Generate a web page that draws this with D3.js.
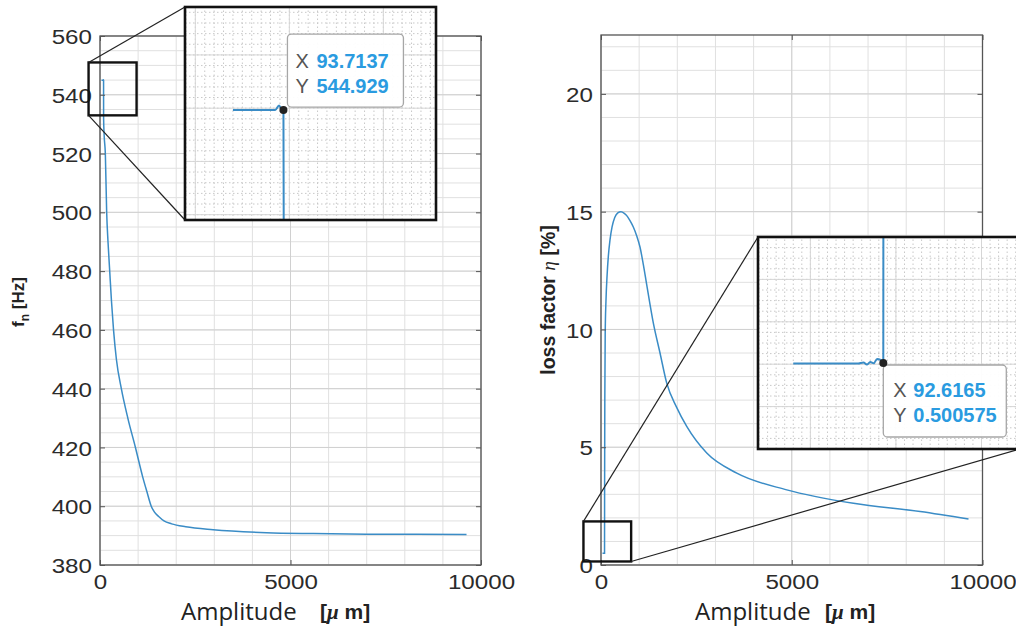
<!DOCTYPE html>
<html>
<head>
<meta charset="utf-8">
<script src="https://cdn.jsdelivr.net/npm/d3@7"></script>
<style>
  body { margin: 0; background: #fff; }
  svg { display: block; font-family: "Liberation Sans", Arial, sans-serif; }
</style>
</head>
<body>
<svg id="chart" width="1016" height="630"></svg>
<script>
// natural frequency vs amplitude
var fnAmp = [40, 85, 89, 91, 93.7137, 94.6, 110, 140, 175, 210, 255, 300, 355, 430, 560, 730, 930, 1120, 1230, 1345, 1430, 1540, 1680, 1880, 2250, 2970, 4370, 5600, 7000, 8300, 9620];
var fnVal = [544.93, 544.93, 545.1, 545.0, 544.929, 532, 526, 520, 500, 490, 480, 470, 460, 450, 440, 430, 420, 410, 405, 400, 398, 396.5, 395, 394, 393, 392, 391, 390.7, 390.5, 390.45, 390.4];

// loss factor vs amplitude
var etaAmp = [40, 78, 81, 83, 85, 87, 89, 91, 92.6165, 93.2, 95, 100, 110, 130, 160, 192, 236, 290, 360, 440, 524, 610, 690, 760, 847, 935, 1022, 1110, 1198, 1372, 1547, 1723, 1980, 2247, 2772, 3559, 4870, 6617, 8366, 9633];
var etaVal = [0.5003, 0.5003, 0.5008, 0.4998, 0.5010, 0.5004, 0.5025, 0.5020, 0.500575, 1.5, 3.5, 7.0, 9.8, 11.2, 12.3, 13.1, 13.8, 14.35, 14.75, 14.95, 15.0, 14.93, 14.8, 14.62, 14.35, 13.98, 13.5, 12.75, 11.9, 10.27, 9.0, 7.72, 6.7, 5.88, 4.75, 3.90, 3.19, 2.62, 2.27, 1.95];

var ampTicks = [0, 5000, 10000];
var fnTicks = [380, 400, 420, 440, 460, 480, 500, 520, 540, 560];
var etaTicks = [0, 5, 10, 15, 20];

var tipLeft = {x: 93.7137, y: 544.929};
var tipRight = {x: 92.6165, y: 0.500575};

// zoom regions (data units)
var zoomLeft = {x: [-300, 960], y: [533, 551]};
var zoomRight = {x: [-460, 790], y: [0.15, 1.85]};

var blue = "#3a8cc6";
var svg = d3.select("#chart");
var lineMain = function (x, y) {
    return d3.line().curve(d3.curveMonotoneX)
        .x(function (d) { return x(d[0]); })
        .y(function (d) { return y(d[1]); });
};
var leftData = fnAmp.map(function (a, i) { return [a, fnVal[i]]; });
var rightData = etaAmp.map(function (a, i) { return [a, etaVal[i]]; });

function grid(g, x, y, xs, ys, color, dash) {
    g.selectAll(null).data(xs).enter().append("line")
        .attr("x1", function (d) { return x(d); }).attr("x2", function (d) { return x(d); })
        .attr("y1", y.range()[0]).attr("y2", y.range()[1])
        .attr("stroke", color).attr("stroke-dasharray", dash);
    g.selectAll(null).data(ys).enter().append("line")
        .attr("y1", function (d) { return y(d); }).attr("y2", function (d) { return y(d); })
        .attr("x1", x.range()[0]).attr("x2", x.range()[1])
        .attr("stroke", color).attr("stroke-dasharray", dash);
}

function panel(x, y, xTicks, yTicks, yMinor, data) {
    var g = svg.append("g");
    grid(g, x, y, d3.range(0, 10001, 1000), yMinor, "#e0e0e0", null);
    grid(g, x, y, xTicks, yTicks, "#d0d0d0", null);

    g.append("path").datum(data)
        .attr("d", lineMain(x, y))
        .attr("fill", "none").attr("stroke", blue).attr("stroke-width", 1.5);

    g.append("rect")
        .attr("x", x.range()[0]).attr("y", y.range()[1])
        .attr("width", x.range()[1] - x.range()[0])
        .attr("height", y.range()[0] - y.range()[1])
        .attr("fill", "none").attr("stroke", "#555").attr("stroke-width", 1.3);

    var fmt = d3.format("d");
    var ax = g.append("g").attr("transform", "translate(0," + y.range()[0] + ")")
        .call(d3.axisBottom(x).tickValues(xTicks).tickFormat(fmt).tickSizeInner(-5).tickSizeOuter(0).tickPadding(9));
    var ay = g.append("g").attr("transform", "translate(" + x.range()[0] + ",0)")
        .call(d3.axisLeft(y).tickValues(yTicks).tickFormat(fmt).tickSizeInner(-5).tickSizeOuter(0).tickPadding(7));
    g.append("g").attr("transform", "translate(0," + y.range()[1] + ")")
        .call(d3.axisTop(x).tickValues(xTicks).tickSizeInner(-5).tickSizeOuter(0).tickFormat(""));
    g.append("g").attr("transform", "translate(" + x.range()[1] + ",0)")
        .call(d3.axisRight(y).tickValues(yTicks).tickSizeInner(-5).tickSizeOuter(0).tickFormat(""));
    g.selectAll(".domain").remove();
    g.selectAll(".tick line").attr("stroke", "#555");
    g.selectAll(".tick text")
        .attr("font-family", "Liberation Sans, Arial, sans-serif")
        .attr("font-size", 21).attr("fill", "#2b2b2b")
        .attr("transform", "scale(1.15,1)");
    ax.selectAll(".tick text").attr("dy", "0.72em");
    ay.selectAll(".tick text").attr("dy", "0.36em");
    return g;
}

function inset(box, x, y, xMinor, yMinor, xMajor, yMajor, data, id) {
    var g = svg.append("g");
    svg.append("clipPath").attr("id", id).append("rect")
        .attr("x", box.x).attr("y", box.y).attr("width", box.w).attr("height", box.h);
    g.append("rect").attr("x", box.x).attr("y", box.y).attr("width", box.w).attr("height", box.h)
        .attr("fill", "#fff");
    var c = g.append("g").attr("clip-path", "url(#" + id + ")");
    grid(c, x, y, xMinor, yMinor, "#c8c8c8", "1.5,2.5");
    grid(c, x, y, xMajor, yMajor, "#d6d6d6", null);
    c.append("path").datum(data)
        .attr("d", lineMain(x, y))
        .attr("fill", "none").attr("stroke", blue).attr("stroke-width", 2);
    g.append("rect").attr("x", box.x).attr("y", box.y).attr("width", box.w).attr("height", box.h)
        .attr("fill", "none").attr("stroke", "#111").attr("stroke-width", 2.6);
    return g;
}

function datatip(px, py, bx, by, bw, bh, tx, tv, vx, vy) {
    var g = svg.append("g");
    g.append("rect").attr("x", bx).attr("y", by).attr("width", bw).attr("height", bh)
        .attr("rx", 4).attr("fill", "#fff").attr("fill-opacity", 0.95)
        .attr("stroke", "#a6a6a6").attr("stroke-width", 1.3);
    g.append("circle").attr("cx", px).attr("cy", py).attr("r", 4).attr("fill", "#222");
    [["X", vx, tx[0]], ["Y", vy, tx[1]]].forEach(function (r) {
        g.append("text").attr("x", tv[0]).attr("y", r[2]).attr("font-size", 20)
            .attr("fill", "#555").text(r[0]);
        g.append("text").attr("x", tv[1]).attr("y", r[2]).attr("font-size", 20)
            .attr("font-weight", "bold").attr("fill", "#2a9be0").text(r[1]);
    });
}

// ---------- left panel ----------
var xL = d3.scaleLinear().domain([0, 10000]).range([100, 481]);
var yL = d3.scaleLinear().domain([380, 560]).range([565, 36]);
panel(xL, yL, ampTicks, fnTicks, d3.range(380, 561, 5), leftData);

// ---------- right panel ----------
var xR = d3.scaleLinear().domain([0, 10000]).range([601, 982.5]);
var yR = d3.scaleLinear().domain([0, 22.5]).range([565, 35]);
panel(xR, yR, ampTicks, etaTicks, d3.range(0, 22.6, 1), rightData);

// axis labels
function xLabel(x0, x1) {
    svg.append("text").attr("x", x0).attr("y", 620).attr("font-family", "Open Sans, sans-serif")
        .attr("font-size", 24).attr("fill", "#222").text("Amplitude");
    svg.append("text").attr("x", x1).attr("y", 619).attr("font-size", 21)
        .attr("font-weight", "bold").attr("fill", "#222")
        .html("[<tspan font-family='Liberation Serif, serif' font-style='italic'>μ</tspan> m]");
}
xLabel(181, 320);
xLabel(695, 825);

svg.append("text").attr("transform", "translate(24,302) rotate(-90)")
    .attr("text-anchor", "middle").attr("font-size", 17).attr("font-weight", "bold").attr("fill", "#222")
    .html("f<tspan font-size='12' dy='5'>n</tspan><tspan dy='-5'> [Hz]</tspan>");
svg.append("text").attr("transform", "translate(555,300) rotate(-90)")
    .attr("text-anchor", "middle").attr("font-size", 19.5).attr("font-weight", "bold").attr("fill", "#222")
    .html("loss factor <tspan font-family='Liberation Serif, serif' font-style='italic' font-weight='normal'>η</tspan> [%]");

// ---------- left zoom ----------
var boxL = {x: 185, y: 7, w: 251, h: 213};
var zxL = d3.scaleLinear().domain([-11, 256]).range([boxL.x, boxL.x + boxL.w]);
var zyL = d3.scaleLinear().domain([540.8, 548.8]).range([boxL.y + boxL.h, boxL.y]);
svg.append("rect")
    .attr("x", xL(zoomLeft.x[0])).attr("y", yL(zoomLeft.y[1]))
    .attr("width", xL(zoomLeft.x[1]) - xL(zoomLeft.x[0]))
    .attr("height", yL(zoomLeft.y[0]) - yL(zoomLeft.y[1]))
    .attr("fill", "none").attr("stroke", "#111").attr("stroke-width", 2.4);
svg.append("line").attr("x1", xL(zoomLeft.x[0])).attr("y1", yL(zoomLeft.y[1]))
    .attr("x2", boxL.x).attr("y2", boxL.y).attr("stroke", "#222").attr("stroke-width", 1.2);
svg.append("line").attr("x1", xL(zoomLeft.x[0])).attr("y1", yL(zoomLeft.y[0]))
    .attr("x2", boxL.x).attr("y2", boxL.y + boxL.h).attr("stroke", "#222").attr("stroke-width", 1.2);
inset(boxL, zxL, zyL, d3.range(-10, 260, 10), d3.range(541, 549, 0.4),
    [0, 100, 200], [541, 543, 545, 547], leftData, "clipL");
var pL = [zxL(tipLeft.x), zyL(tipLeft.y)];
datatip(pL[0], pL[1], pL[0] + 4, pL[1] - 76, 116, 73, [pL[1] - 42, pL[1] - 17],
    [pL[0] + 12, pL[0] + 33], "93.7137", "544.929");

// ---------- right zoom ----------
var boxR = {x: 758, y: 237, w: 262, h: 212};
var zxR = d3.scaleLinear().domain([19.4, 172.5]).range([boxR.x, boxR.x + boxR.w]);
var zyR = d3.scaleLinear().domain([0.46, 0.56]).range([boxR.y + boxR.h, boxR.y]);
svg.append("rect")
    .attr("x", xR(zoomRight.x[0])).attr("y", yR(zoomRight.y[1]))
    .attr("width", xR(zoomRight.x[1]) - xR(zoomRight.x[0]))
    .attr("height", yR(zoomRight.y[0]) - yR(zoomRight.y[1]))
    .attr("fill", "none").attr("stroke", "#111").attr("stroke-width", 2.4);
svg.append("line").attr("x1", xR(zoomRight.x[0])).attr("y1", yR(zoomRight.y[1]))
    .attr("x2", boxR.x).attr("y2", boxR.y).attr("stroke", "#222").attr("stroke-width", 1.2);
svg.append("line").attr("x1", xR(zoomRight.x[1])).attr("y1", yR(zoomRight.y[0]))
    .attr("x2", boxR.x + boxR.w).attr("y2", boxR.y + boxR.h).attr("stroke", "#222").attr("stroke-width", 1.2);
inset(boxR, zxR, zyR, d3.range(20, 175, 5), d3.range(0.46, 0.561, 0.005),
    [50, 100, 150], [0.48, 0.5, 0.52, 0.54], rightData, "clipR");
var pR = [zxR(tipRight.x), zyR(tipRight.y)];
datatip(pR[0], pR[1], pR[0], pR[1] + 2, 123, 72, [pR[1] + 34, pR[1] + 59],
    [pR[0] + 10, pR[0] + 30], "92.6165", "0.500575");
</script>
</body>
</html>
